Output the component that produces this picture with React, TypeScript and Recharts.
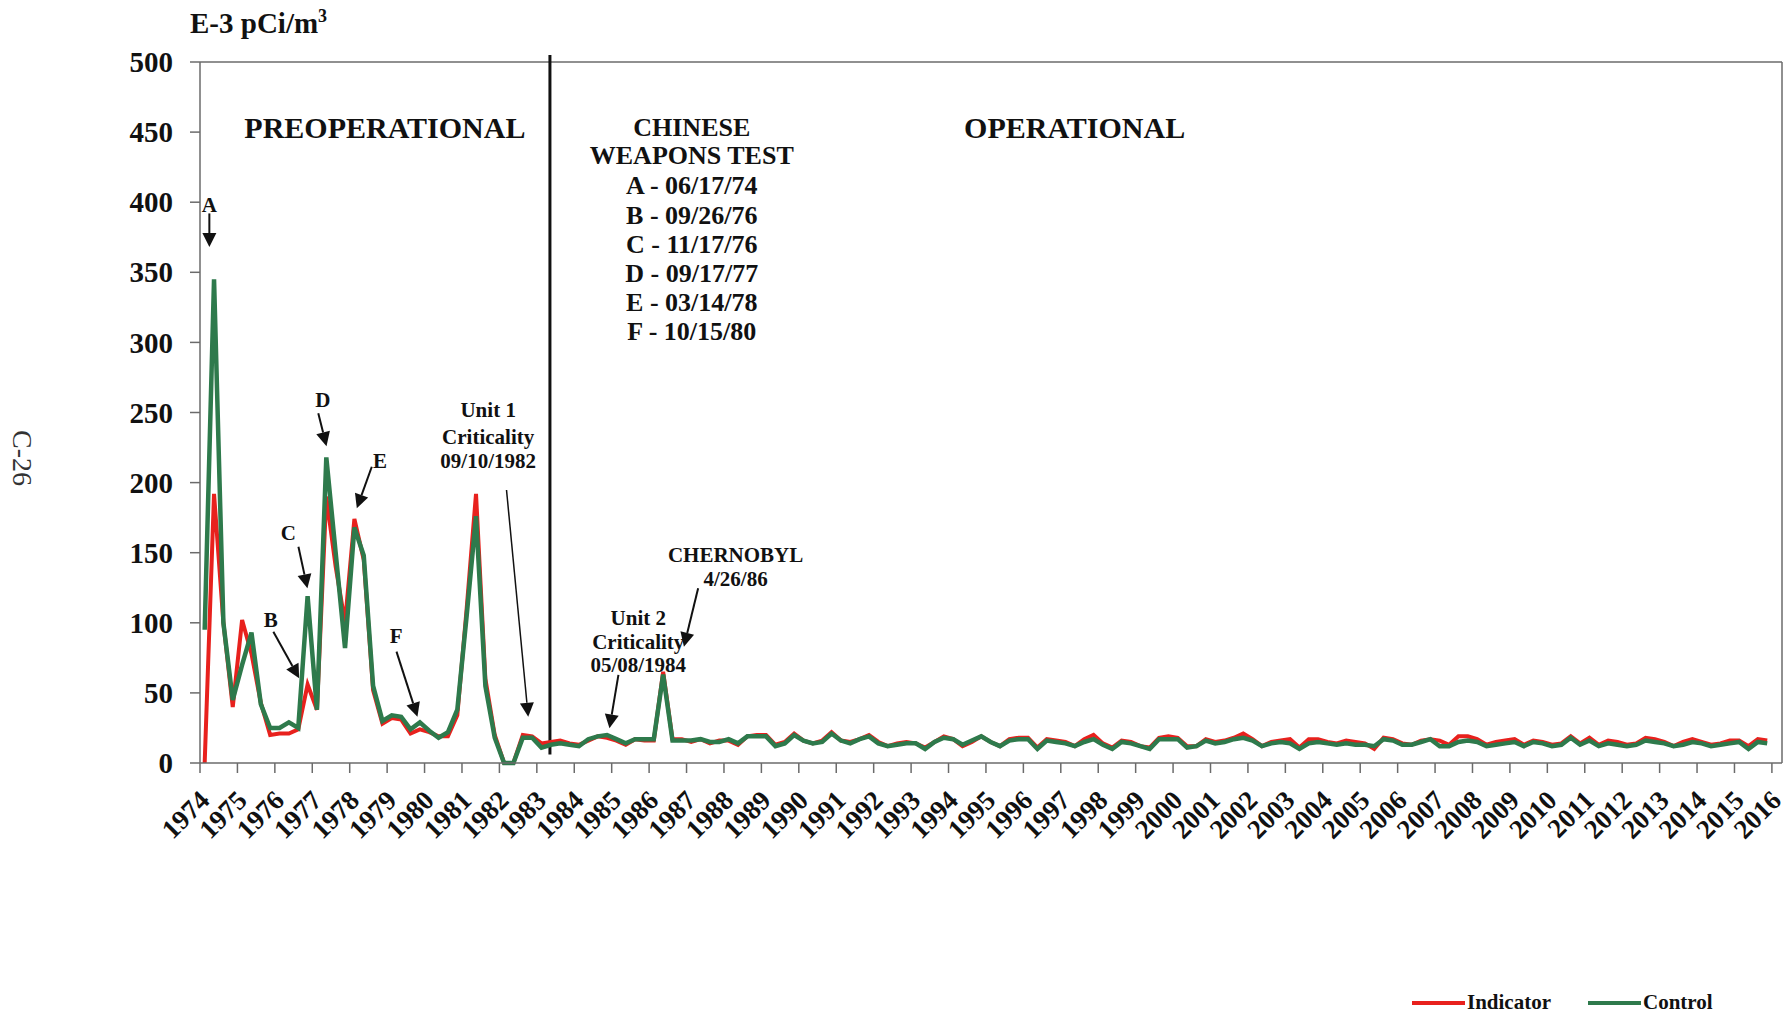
import React from "react"
import {
  LineChart,
  Line,
  XAxis,
  YAxis,
  ReferenceLine,
  ReferenceDot,
  Legend,
} from "recharts"

// Quarterly gross beta in air particulates, E-3 pCi/m3
const YEARS = [
  1974, 1975, 1976, 1977, 1978, 1979, 1980, 1981, 1982, 1983, 1984, 1985,
  1986, 1987, 1988, 1989, 1990, 1991, 1992, 1993, 1994, 1995, 1996, 1997,
  1998, 1999, 2000, 2001, 2002, 2003, 2004, 2005, 2006, 2007, 2008, 2009,
  2010, 2011, 2012, 2013, 2014, 2015, 2016,
]

const Y_TICKS = [0, 50, 100, 150, 200, 250, 300, 350, 400, 450, 500]

// position of each quarterly composite inside its year
const QUARTER_POS = [0.125, 0.375, 0.625, 0.875]

// one row per year, Q1..Q4
const INDICATOR = [
  0, 192, 100, 40, // 1974
  102, 78, 43, 20,
  21, 21, 24, 56,
  38, 190, 140, 100,
  174, 145, 52, 28,
  32, 31, 21, 24,
  22, 19, 19, 34,
  110, 192, 60, 20,
  0, 0, 20, 19,
  14, 15, 16, 14,
  13, 16, 19, 18, // 1984
  16, 13, 17, 16,
  16, 65, 17, 17,
  15, 17, 14, 16,
  16, 13, 19, 20,
  20, 13, 15, 21,
  16, 14, 16, 22,
  16, 15, 17, 20,
  15, 12, 14, 15,
  14, 11, 15, 19,
  17, 12, 15, 19, // 1994
  15, 12, 17, 18,
  18, 11, 17, 16,
  15, 12, 17, 20,
  14, 11, 16, 15,
  12, 11, 18, 19,
  18, 12, 12, 17,
  15, 16, 18, 21,
  17, 12, 15, 16,
  17, 11, 17, 17,
  15, 14, 16, 15, // 2004
  14, 10, 18, 17,
  14, 13, 16, 17,
  16, 13, 19, 19,
  17, 13, 15, 16,
  17, 13, 16, 15,
  13, 14, 19, 14,
  18, 13, 16, 15,
  13, 14, 18, 17,
  15, 12, 15, 17,
  15, 13, 14, 16, // 2014
  16, 12, 17, 16,
]

const CONTROL = [
  95, 345, 100, 45, // 1974
  70, 93, 42, 25,
  25, 29, 25, 119,
  38, 218, 150, 82,
  168, 148, 55, 30,
  34, 33, 24, 29,
  23, 18, 22, 38,
  105, 176, 55, 18,
  0, 0, 18, 18,
  11, 13, 14, 13,
  12, 17, 19, 20, // 1984
  17, 14, 17, 17,
  17, 63, 16, 16,
  16, 17, 15, 15,
  17, 14, 19, 19,
  19, 12, 14, 20,
  16, 14, 15, 21,
  16, 14, 17, 19,
  14, 12, 13, 14,
  14, 10, 15, 18,
  17, 13, 16, 19, // 1994
  15, 12, 16, 17,
  17, 10, 16, 15,
  14, 12, 15, 17,
  13, 10, 15, 14,
  12, 10, 17, 17,
  17, 11, 12, 16,
  14, 15, 17, 18,
  16, 12, 14, 15,
  14, 10, 14, 15,
  14, 13, 14, 13, // 2004
  13, 12, 17, 16,
  13, 13, 15, 17,
  12, 12, 15, 16,
  15, 12, 13, 14,
  15, 12, 15, 14,
  12, 13, 18, 13,
  16, 12, 14, 13,
  12, 13, 16, 15,
  14, 12, 13, 15,
  14, 12, 13, 14, // 2014
  15, 10, 15, 14,
]

const SERIES = [
  { key: "indicator", name: "Indicator", color: "#e8211d", width: 4 },
  { key: "control", name: "Control", color: "#2e7a4c", width: 4.5 },
]

// text notes, in data units (year, value)
const NOTES = [
  { x: 1974.25, y: 398, text: "A", size: 21 },
  { x: 1975.89, y: 102, text: "B", size: 21 },
  { x: 1976.36, y: 164, text: "C", size: 21 },
  { x: 1977.28, y: 259, text: "D", size: 21 },
  { x: 1978.81, y: 216, text: "E", size: 21 },
  { x: 1979.24, y: 91, text: "F", size: 21 },
  { x: 1981.7, y: 252, text: "Unit 1", size: 21 },
  { x: 1981.7, y: 233, text: "Criticality", size: 21 },
  { x: 1981.7, y: 216, text: "09/10/1982", size: 21 },
  { x: 1985.71, y: 104, text: "Unit 2", size: 21 },
  { x: 1985.71, y: 86.5, text: "Criticality", size: 21 },
  { x: 1985.71, y: 70, text: "05/08/1984", size: 21 },
  { x: 1988.31, y: 148.4, text: "CHERNOBYL", size: 21 },
  { x: 1988.31, y: 131.7, text: "4/26/86", size: 21 },
  { x: 1978.94, y: 453.6, text: "PREOPERATIONAL", size: 30 },
  { x: 1997.37, y: 453.6, text: "OPERATIONAL", size: 30 },
  { x: 1987.14, y: 453.9, text: "CHINESE", size: 26 },
  { x: 1987.14, y: 433.7, text: "WEAPONS TEST", size: 26 },
  { x: 1987.14, y: 412.3, text: "A - 06/17/74", size: 26 },
  { x: 1987.14, y: 390.9, text: "B - 09/26/76", size: 26 },
  { x: 1987.14, y: 370.2, text: "C - 11/17/76", size: 26 },
  { x: 1987.14, y: 349.5, text: "D - 09/17/77", size: 26 },
  { x: 1987.14, y: 328.8, text: "E - 03/14/78", size: 26 },
  { x: 1987.14, y: 308.1, text: "F - 10/15/80", size: 26 },
]

const ARROWS = [
  { from: [1974.25, 392], to: [1974.25, 368], w: 2 }, // A
  { from: [1975.96, 93.6], to: [1976.65, 60.4], w: 2 }, // B
  { from: [1976.63, 154.3], to: [1976.87, 124.6], w: 2 }, // C
  { from: [1977.16, 249.4], to: [1977.38, 226], w: 2 }, // D
  { from: [1978.59, 211.3], to: [1978.19, 181.7], w: 2 }, // E
  { from: [1979.25, 79.4], to: [1979.81, 33], w: 2 }, // F
  { from: [1982.19, 194.7], to: [1982.77, 33], w: 1.5 }, // Unit 1
  { from: [1985.18, 62.8], to: [1984.94, 24.7], w: 2 }, // Unit 2
  { from: [1987.31, 124.6], to: [1986.93, 83], w: 2 }, // Chernobyl
]

const DIVIDER_YEAR = 1983.35
const X_MAX = 2016.27

const FONT = '"Liberation Serif", "Times New Roman", serif'
const AXIS = "#6b6b6b"

const data = YEARS.slice(0, -1).flatMap((yr, i) =>
  QUARTER_POS.map((q, j) => ({
    t: yr + q,
    indicator: INDICATOR[i * 4 + j],
    control: CONTROL[i * 4 + j],
  }))
)

function YTick({ x, y, payload }: any) {
  return (
    <text
      x={x}
      y={y}
      dy="0.35em"
      textAnchor="end"
      fontFamily={FONT}
      fontWeight="bold"
      fontSize={29}
      fill="#111"
    >
      {payload.value}
    </text>
  )
}

function XTick({ x, y, payload }: any) {
  const bx = x + 11
  const by = y + 27
  return (
    <text
      x={bx}
      y={by}
      textAnchor="end"
      transform={`rotate(-45, ${bx}, ${by})`}
      fontFamily={FONT}
      fontWeight="bold"
      fontSize={27}
      fill="#111"
    >
      {payload.value}
    </text>
  )
}

function UnitLabel({ viewBox }: any) {
  const x = viewBox.x + viewBox.width - 10
  const y = viewBox.y - 29
  return (
    <text x={x} y={y} fontFamily={FONT} fontWeight="bold" fontSize={29} fill="#111">
      E-3 pCi/m
      <tspan fontSize={18} dy={-11}>
        3
      </tspan>
    </text>
  )
}

function noteShape(text: string, size: number) {
  return ({ cx, cy }: any) => (
    <text
      x={cx}
      y={cy}
      dy="0.35em"
      textAnchor="middle"
      fontFamily={FONT}
      fontWeight="bold"
      fontSize={size}
      fill="#111"
    >
      {text}
    </text>
  )
}

function arrowShape(w: number) {
  return ({ x1, y1, x2, y2 }: any) => {
    const dx = x2 - x1
    const dy = y2 - y1
    const len = Math.sqrt(dx * dx + dy * dy) || 1
    const ux = dx / len
    const uy = dy / len
    const head = 14
    const half = 7
    const bx = x2 - ux * head
    const by = y2 - uy * head
    const pts = [
      `${x2},${y2}`,
      `${bx - uy * half},${by + ux * half}`,
      `${bx + uy * half},${by - ux * half}`,
    ].join(" ")
    return (
      <g>
        <line x1={x1} y1={y1} x2={bx} y2={by} stroke="#111" strokeWidth={w} />
        <polygon points={pts} fill="#111" />
      </g>
    )
  }
}

function LegendContent() {
  return (
    <div
      style={{
        display: "flex",
        alignItems: "center",
        fontFamily: FONT,
        fontWeight: "bold",
        fontSize: 21,
        color: "#111",
        whiteSpace: "nowrap",
      }}
    >
      {SERIES.map((s, i) => (
        <div
          key={s.key}
          style={{ display: "flex", alignItems: "center", marginLeft: i ? 37 : 0 }}
        >
          <svg width={53} height={8}>
            <line x1={0} y1={4} x2={53} y2={4} stroke={s.color} strokeWidth={4} />
          </svg>
          <span style={{ marginLeft: 2 }}>{s.name}</span>
        </div>
      ))}
    </div>
  )
}

export default function App() {
  return (
    <div
      style={{
        position: "absolute",
        left: 0,
        top: 0,
        width: 1788,
        height: 1016,
        background: "#fff",
      }}
    >
      <div
        style={{
          position: "absolute",
          left: 38,
          top: 430,
          transform: "rotate(90deg)",
          transformOrigin: "left top",
          fontFamily: FONT,
          fontSize: 28,
          lineHeight: "32px",
          color: "#333",
          whiteSpace: "nowrap",
        }}
      >
        C-26
      </div>
      <LineChart
        width={1788}
        height={1016}
        data={data}
        margin={{ top: 62, right: 6, bottom: 153, left: 0 }}
      >
        <XAxis
          dataKey="t"
          type="number"
          domain={[1974, X_MAX]}
          allowDataOverflow
          ticks={YEARS}
          interval={0}
          tick={<XTick />}
          tickSize={10}
          height={100}
          stroke={AXIS}
          strokeWidth={1.5}
        />
        <YAxis
          type="number"
          domain={[0, 500]}
          ticks={Y_TICKS}
          interval={0}
          tick={<YTick />}
          tickSize={10}
          tickMargin={17}
          width={200}
          stroke={AXIS}
          strokeWidth={1.5}
          label={{ content: <UnitLabel /> }}
        />
        <ReferenceLine y={500} stroke={AXIS} strokeWidth={1.5} />
        <ReferenceLine x={X_MAX} stroke={AXIS} strokeWidth={1.5} />
        <ReferenceLine
          segment={[
            { x: DIVIDER_YEAR, y: 505 },
            { x: DIVIDER_YEAR, y: 6 },
          ]}
          ifOverflow="visible"
          stroke="#111"
          strokeWidth={3}
        />
        <Legend
          layout="vertical"
          align="center"
          verticalAlign="middle"
          wrapperStyle={{ left: 1412, top: 990, width: 340 }}
          content={<LegendContent />}
        />
        {SERIES.map((s) => (
          <Line
            key={s.key}
            name={s.name}
            dataKey={s.key}
            type="linear"
            stroke={s.color}
            strokeWidth={s.width}
            dot={false}
            isAnimationActive={false}
          />
        ))}
        {ARROWS.map((a, i) => (
          <ReferenceLine
            key={`arrow-${i}`}
            segment={[
              { x: a.from[0], y: a.from[1] },
              { x: a.to[0], y: a.to[1] },
            ]}
            ifOverflow="visible"
            shape={arrowShape(a.w)}
          />
        ))}
        {NOTES.map((n, i) => (
          <ReferenceDot
            key={`note-${i}`}
            x={n.x}
            y={n.y}
            r={0}
            ifOverflow="visible"
            shape={noteShape(n.text, n.size)}
          />
        ))}
      </LineChart>
    </div>
  )
}
